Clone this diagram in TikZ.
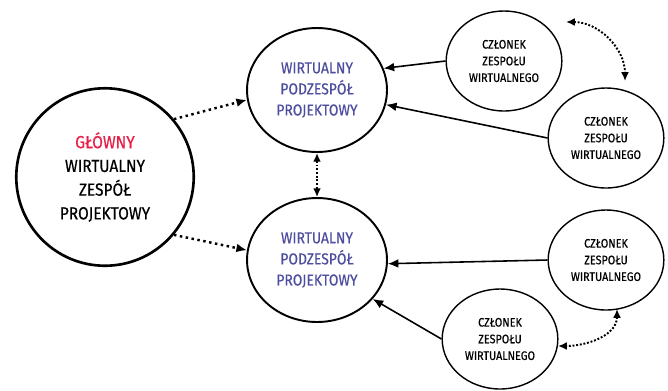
\documentclass[tikz,border=0pt]{standalone}
\usepackage{fontspec}
\setmainfont{Fira Sans}[FakeBold=0.5,FakeStretch=0.88]
\usetikzlibrary{shapes.geometric,arrows.meta}
\definecolor{glred}{RGB}{232,32,72}
\definecolor{subblue}{RGB}{78,78,160}
\tikzset{
    mainteam/.style={draw,circle,line width=1.5pt,minimum size=3.55cm,align=center,font=\fontsize{10}{13.5}\selectfont},
    subteam/.style={draw,ellipse,line width=1.1pt,minimum width=2.8cm,minimum height=2.48cm,align=center,text=subblue,font=\fontsize{9}{12}\selectfont},
    member/.style={draw,ellipse,line width=0.8pt,minimum width=2.24cm,minimum height=2cm,align=center,font=\fontsize{7}{9.5}\selectfont},
    feed/.style={-{Latex[length=6pt,width=5pt]},line width=0.9pt},
    link/.style={-{Latex[length=6pt,width=5pt]},line width=1.4pt,dotted},
    swap/.style={{Latex[length=5pt,width=4.5pt]}-{Latex[length=5pt,width=4.5pt]},line width=1.1pt,densely dotted}
}
\begin{document}
\begin{tikzpicture}[x=0.02cm,y=-0.02cm]
    \useasboundingbox (0,0) rectangle (668,390);
    %% main team
    \node[mainteam] (main) at (105,177) {\textcolor{glred}{GŁÓWNY}\\WIRTUALNY\\ZESPÓŁ\\PROJEKTOWY};
    %% sub teams
    \node[subteam] (subtop) at (317,90) {WIRTUALNY\\PODZESPÓŁ\\PROJEKTOWY};
    \node[subteam] (subbot) at (317,260) {WIRTUALNY\\PODZESPÓŁ\\PROJEKTOWY};
    %% members
    \node[member] (mema) at (504,61) {CZŁONEK\\ZESPOŁU\\WIRTUALNEGO};
    \node[member] (memb) at (606,138) {CZŁONEK\\ZESPOŁU\\WIRTUALNEGO};
    \node[member] (memc) at (606,260) {CZŁONEK\\ZESPOŁU\\WIRTUALNEGO};
    \node[member] (memd) at (500,339) {CZŁONEK\\ZESPOŁU\\WIRTUALNEGO};
    %% main to sub teams
    \draw[link] (main.40) -- (subtop.188);
    \draw[link] (main.-40) -- (subbot.172);
    \draw[swap] (subtop.south) -- (subbot.north);
    %% members to sub teams
    \draw[feed] (mema.west) -- (subtop.18);
    \draw[feed] (memb.west) -- (subtop.-12);
    \draw[feed] (memc.west) -- (subbot.-3);
    \draw[feed] (memd.west) -- (subbot.-35);
    %% swaps between members
    \coordinate (swapa) at (566,22);
    \coordinate (swapb) at (625,81);
    \coordinate (swapc) at (617,309);
    \coordinate (swapd) at (558,346);
    \draw[swap] (swapa) to[out=0,in=90] (swapb);
    \draw[swap] (swapc) to[out=-90,in=0] (swapd);
\end{tikzpicture}
\end{document}
